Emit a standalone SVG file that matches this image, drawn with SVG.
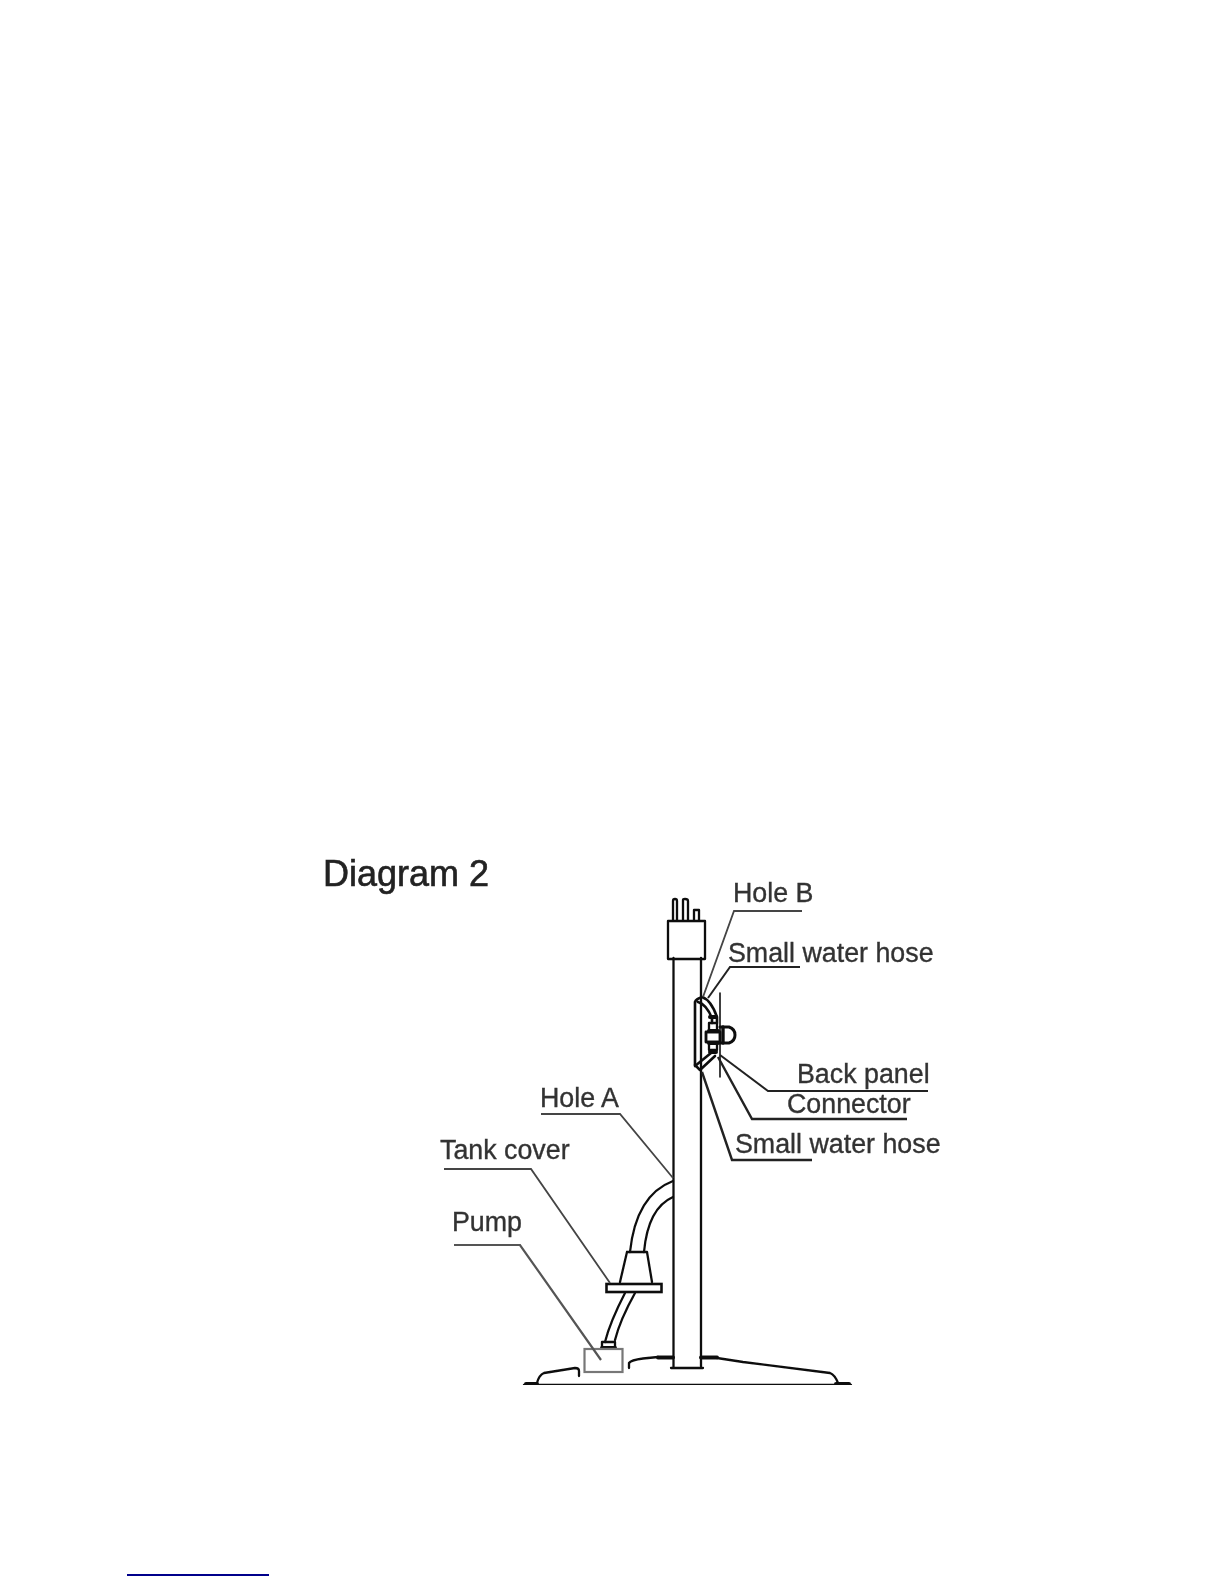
<svg xmlns="http://www.w3.org/2000/svg" width="1224" height="1584" viewBox="0 0 1224 1584">
<defs><filter id="soft" x="0" y="0" width="100%" height="100%" filterUnits="objectBoundingBox"><feGaussianBlur stdDeviation="0.45"/></filter></defs>
<style>
.l{fill:none;stroke:#111;stroke-width:2.300;stroke-linejoin:round;stroke-linecap:round}
.w{fill:#fff;stroke:#111;stroke-width:2}
.th{fill:none;stroke:#111;stroke-width:4;stroke-linecap:round}
.lead{fill:none;stroke:#444;stroke-width:1.8}
.lead2{fill:none;stroke:#222;stroke-width:2}
text{font-family:"Liberation Sans",Arial,sans-serif;font-size:26.8px;fill:#333;stroke:#333;stroke-width:.35}
</style>
<rect width="1224" height="1584" fill="#fff"/>
<g filter="url(#soft)">
<text id="title" x="323" y="886" style="font-size:36px;fill:#222;stroke:#222;stroke-width:.6">Diagram 2</text>
<g id="base">
<path class="l" d="M524 1385H851"/>
<path class="th" d="M526 1384H537M836 1384H849"/>
<path class="l" d="M537 1383Q539 1375 544 1373L575 1368Q579 1368 579 1371V1376"/>
<path class="l" d="M629 1368V1363Q631 1360 643 1358.500L658 1357"/>
<path class="th" d="M658 1357.500H673M701 1357.500H717"/>
<path class="l" d="M717 1358L743 1362L830 1373Q835 1375 838 1383"/>
</g>
<g id="post">
<path class="l" d="M673.500 958V1368M701 958V1368M671 1368H703"/>
<rect class="l" x="668" y="921" width="37" height="38"/>
<path class="l" d="M673 920V901Q673 899 675 899Q677 899 677 901V920M683 920V900Q683 899 685 899Q688 899 688 901V920M694 920V910H699V920"/>
</g>
<g id="hose-upper">
<path class="l" d="M673 1181Q636 1195 630 1252M673 1197Q648 1208 644 1252"/>
<path class="l" d="M627 1252H647L652 1282M627 1252L620 1282"/>
</g>
<g id="tank-cover"><rect class="w" x="606.500" y="1284" width="55" height="8" style="stroke-width:2.600"/></g>
<g id="hose-lower">
<path class="l" d="M625 1293Q610 1322 605 1342M635 1293Q620 1320 615 1340"/>
<rect class="l" x="602" y="1342" width="13" height="5.500"/>
<path class="th" d="M602 1348H615"/>
</g>
<g id="pump"><rect x="584.500" y="1349" width="38" height="23" fill="none" stroke="#777" stroke-width="2.200"/></g>
<g id="back-panel"><path class="l" style="stroke-width:1.600" d="M720 993V1077"/></g>
<g id="small-hose-top">
<path class="l" style="stroke-width:2.600" d="M695 1065V1002Q696 999 702 997Q711 1000 717 1017V1023M698 1002Q706 1004 712 1018V1023"/>
</g>
<g id="small-hose-bottom">
<path class="l" style="stroke-width:2.600" d="M695 1065L700 1070L715 1056M695 1066L711 1053"/>
</g>
<g id="connector">
<rect class="l" x="709" y="1023" width="8" height="8"/>
<path class="th" d="M709 1031H718M710 1017H716"/>
<rect class="l" x="706" y="1032" width="14" height="10" style="stroke-width:2.800"/>
<rect class="l" x="709" y="1043" width="8" height="7"/>
<path class="th" d="M709 1043H718M710 1052H716"/>
<path class="l" style="stroke-width:3" d="M720 1027H729Q735 1029 735 1035Q735 1041 729 1043H720"/>
<path class="l" style="stroke-width:3.400" d="M723 1027V1043"/>
</g>
<g id="connectors">
<path class="lead" d="M802 911H734L703 997"/>
<path class="lead2" d="M800 967H730L708 998"/>
<path class="lead2" d="M928 1091H768L720 1055"/>
<path class="lead2" style="stroke-width:2.400" d="M907 1119H752L718 1057"/>
<path class="lead2" style="stroke-width:2.400" d="M812 1160H732L702 1072"/>
<path class="lead" d="M541 1114H620L673 1178"/>
<path class="lead" d="M444 1169H531L610 1283"/>
<path class="lead" style="stroke:#555;stroke-width:2.200" d="M454 1245H520L601 1360"/>
</g>
<g id="label-hole-b"><text x="733" y="902">Hole B</text></g>
<g id="label-small-hose-1"><text x="728" y="962">Small water hose</text></g>
<g id="label-back-panel"><text x="797" y="1083">Back panel</text></g>
<g id="label-connector"><text x="787" y="1113">Connector</text></g>
<g id="label-small-hose-2"><text x="735" y="1153">Small water hose</text></g>
<g id="label-hole-a"><text x="540" y="1107">Hole A</text></g>
<g id="label-tank-cover"><text x="440" y="1159">Tank cover</text></g>
<g id="label-pump"><text x="452" y="1231">Pump</text></g>
</g>
<line id="footnote-rule" x1="127" y1="1575" x2="269" y2="1575" stroke="#00008b" stroke-width="1.800"/>
</svg>
